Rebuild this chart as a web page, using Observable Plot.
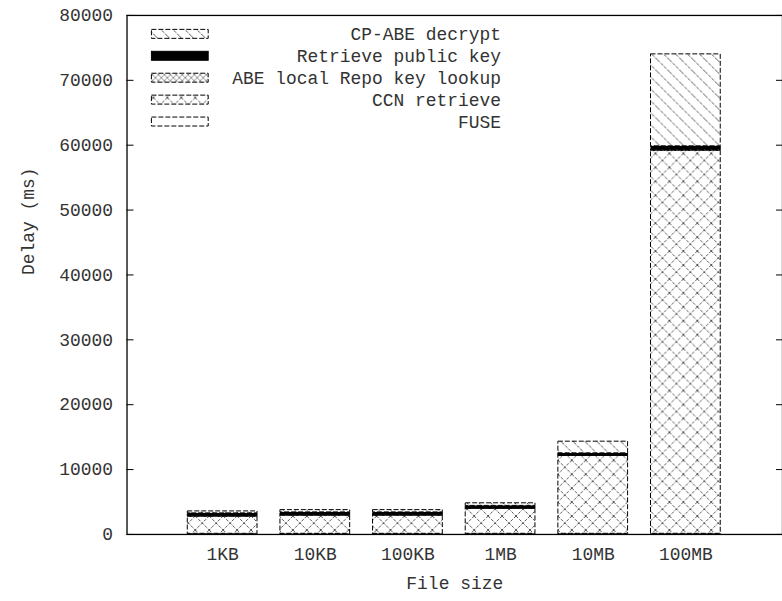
<!DOCTYPE html>
<html><head><meta charset="utf-8">
<script src="https://cdn.jsdelivr.net/npm/d3@7"></script>
<script src="https://cdn.jsdelivr.net/npm/@observablehq/plot@0.6"></script>
<style>
body{margin:0;overflow:hidden;background:#fff}
#chart{width:782px;height:601px;overflow:hidden;position:relative}
</style>
</head><body><div id="chart"></div>
<script>
const fileSizes = ["1KB", "10KB", "100KB", "1MB", "10MB", "100MB"];
const seriesNames = ["FUSE", "CCN retrieve", "ABE local Repo key lookup", "Retrieve public key", "CP-ABE decrypt"];
const fuse = [100, 100, 100, 100, 100, 100];
const ccnRetrieve = [2650, 2800, 2800, 3850, 12000, 59050];
const abeLookup = [50, 50, 50, 50, 50, 80];
const retrievePublicKey = [450, 450, 450, 400, 350, 600];
const cpAbeDecrypt = [300, 350, 350, 400, 1800, 14170];
const yTicks = [0, 10000, 20000, 30000, 40000, 50000, 60000, 70000, 80000];

const seriesValues = [fuse, ccnRetrieve, abeLookup, retrievePublicKey, cpAbeDecrypt];
const fills = ["url(#pFuse)", "url(#pCcn)", "url(#pLookup)", "#000", "url(#pDecrypt)"];

const rows = fileSizes.flatMap((s, i) => seriesNames.map((n, j) => ({size: s, series: n, value: seriesValues[j][i]})));

const font = "'Liberation Mono', 'DejaVu Sans Mono', monospace";

const plot = Plot.plot({
  width: 785, height: 601,
  marginLeft: 127, marginRight: 0, marginTop: 15, marginBottom: 65,
  style: {fontFamily: font, fontSize: "18px", color: "#000", background: "#fff"},
  x: {domain: fileSizes, paddingInner: 0.245, paddingOuter: 0.628, label: null},
  y: {domain: [0, 80000], label: null},
  color: {type: "ordinal", domain: seriesNames, range: fills},
  marks: [
    Plot.barY(rows, {x: "size", y: "value", fill: "series", stroke: "#000", strokeWidth: 1, strokeDasharray: "5,2"}),
    Plot.frame({stroke: "#000", strokeWidth: 1.3}),
    Plot.axisY({ticks: yTicks, tickSize: 0, tickPadding: 14, tickFormat: d => String(d), fill: "#333", fontSize: 18, label: null}),
    Plot.axisY({ticks: yTicks, anchor: "left", tickSize: -7, text: null, label: null}),
    Plot.axisY({ticks: yTicks, anchor: "right", tickSize: -7, text: null, label: null}),
    Plot.axisX({tickSize: 0, tickPadding: 13, fill: "#333", fontSize: 18, label: null}),
    Plot.text(["Delay (ms)"], {frameAnchor: "left", dx: -99, rotate: -90, fill: "#333", fontSize: 18}),
    Plot.text(["File size"], {frameAnchor: "bottom", dy: 55, fill: "#333", fontSize: 18})
  ]
});

// pattern definitions
const svg = d3.select(plot);
const defs = svg.insert("defs", ":first-child");
const pD = defs.append("pattern").attr("id", "pDecrypt").attr("patternUnits", "userSpaceOnUse").attr("width", 12).attr("height", 12);
pD.append("rect").attr("width", 12).attr("height", 12).attr("fill", "#fff");
pD.append("path").attr("d", "M-3,-3L15,15M-3,9L3,15M9,-3L15,3").attr("stroke", "#444").attr("stroke-width", 1).attr("stroke-dasharray", "3,1.5");
const pC = defs.append("pattern").attr("id", "pCcn").attr("patternUnits", "userSpaceOnUse").attr("width", 14).attr("height", 14);
pC.append("rect").attr("width", 14).attr("height", 14).attr("fill", "#fff");
pC.append("path").attr("d", "M0,0L14,14M14,0L0,14").attr("stroke", "#555").attr("stroke-width", 1).attr("stroke-dasharray", "3,1.5");
const pL = defs.append("pattern").attr("id", "pLookup").attr("patternUnits", "userSpaceOnUse").attr("width", 6).attr("height", 6);
pL.append("rect").attr("width", 6).attr("height", 6).attr("fill", "#fff");
pL.append("path").attr("d", "M0,0L6,6M6,0L0,6").attr("stroke", "#777").attr("stroke-width", 0.8);
const pF = defs.append("pattern").attr("id", "pFuse").attr("patternUnits", "userSpaceOnUse").attr("width", 8).attr("height", 8);
pF.append("rect").attr("width", 8).attr("height", 8).attr("fill", "#fff");

// legend (inside plot, top-left)
const legendOrder = seriesNames.slice().reverse();
const lg = svg.append("g").attr("font-family", font).attr("font-size", 18).attr("fill", "#333");
legendOrder.forEach((name, i) => {
  const cy = 34 + i * 22;
  const j = seriesNames.indexOf(name);
  lg.append("rect").attr("x", 152).attr("y", cy - 4.5).attr("width", 57).attr("height", 9)
    .attr("fill", fills[j]).attr("stroke", "#000").attr("stroke-width", 1)
    .attr("stroke-dasharray", name === "Retrieve public key" ? null : "5,2");
  lg.append("text").attr("x", 503).attr("y", cy).attr("dy", "0.35em").attr("text-anchor", "end").text(name);
});

document.getElementById("chart").appendChild(plot);
</script>
</body></html>
